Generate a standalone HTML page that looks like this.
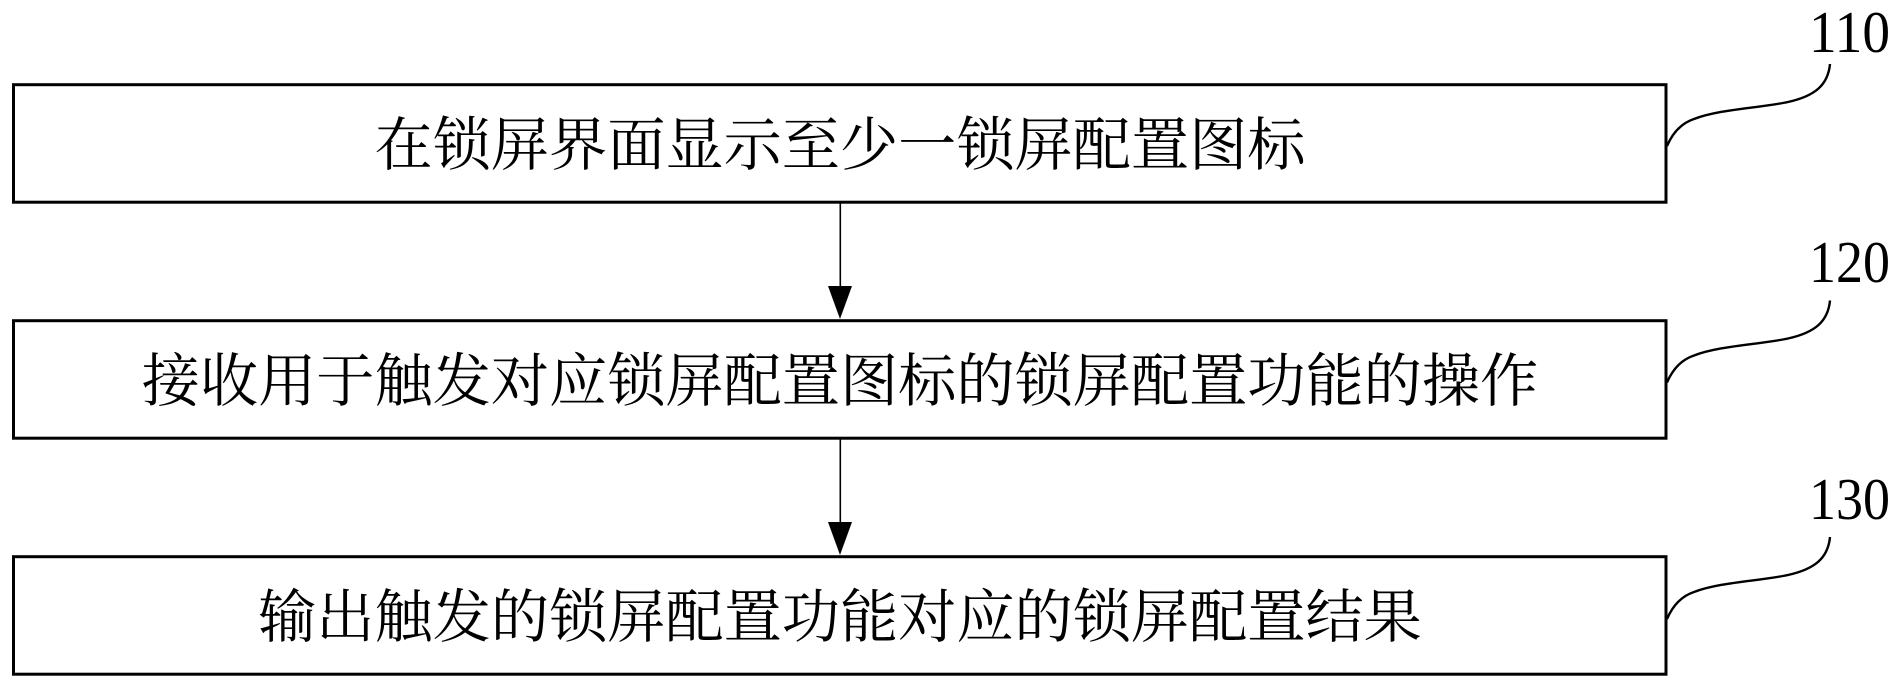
<!DOCTYPE html>
<html><head><meta charset="utf-8"><style>
html,body{margin:0;padding:0;background:#fff;width:1903px;height:689px;overflow:hidden}
svg{display:block}
.t{font-family:"Liberation Serif","Noto Serif CJK SC",serif;font-size:58.2px;fill:#000;text-anchor:middle}
.n{font-family:"Liberation Serif",serif;font-size:59px;fill:#000}
</style></head><body>
<svg width="1903" height="689" viewBox="0 0 1903 689" xmlns="http://www.w3.org/2000/svg">
<rect width="1903" height="689" fill="#fff"/>
<g fill="none" stroke="#000" stroke-width="3">
<rect x="13.500" y="84.700" width="1652.500" height="117.500"/>
<rect x="13.500" y="320.700" width="1652.500" height="117.500"/>
<rect x="13.500" y="556.700" width="1652.500" height="117.500"/>
</g>
<g stroke="#000" stroke-width="1.6">
<line x1="840.3" y1="202" x2="840.3" y2="290"/>
<line x1="840.3" y1="438" x2="840.3" y2="526"/>
</g>
<polygon points="828,286 852,286 840,319" fill="#000"/>
<polygon points="828,522 852,522 840,555" fill="#000"/>
<g fill="none" stroke="#000" stroke-width="2.4">
<path d="M1667 146C1673 132 1682 123 1694 119C1720 109 1760 108 1788 102C1815 96 1828 85 1830 64"/>
<path d="M1667 382.500C1673 368.500 1682 359.500 1694 355.500C1720 345.500 1760 344.500 1788 338.500C1815 332.500 1828 321.500 1830 300.500"/>
<path d="M1667 619C1673 605 1682 596 1694 592C1720 582 1760 581 1788 575C1815 569 1828 558 1830 537"/>
</g>
<text class="t" x="840" y="165">在锁屏界面显示至少一锁屏配置图标</text>
<text class="t" x="840" y="401">接收用于触发对应锁屏配置图标的锁屏配置功能的操作</text>
<text class="t" x="840" y="637">输出触发的锁屏配置功能对应的锁屏配置结果</text>
<text class="n" x="1809" y="52" textLength="81" lengthAdjust="spacingAndGlyphs">110</text>
<text class="n" x="1809" y="282" textLength="81" lengthAdjust="spacingAndGlyphs">120</text>
<text class="n" x="1809" y="519" textLength="81" lengthAdjust="spacingAndGlyphs">130</text>
</svg>
</body></html>
